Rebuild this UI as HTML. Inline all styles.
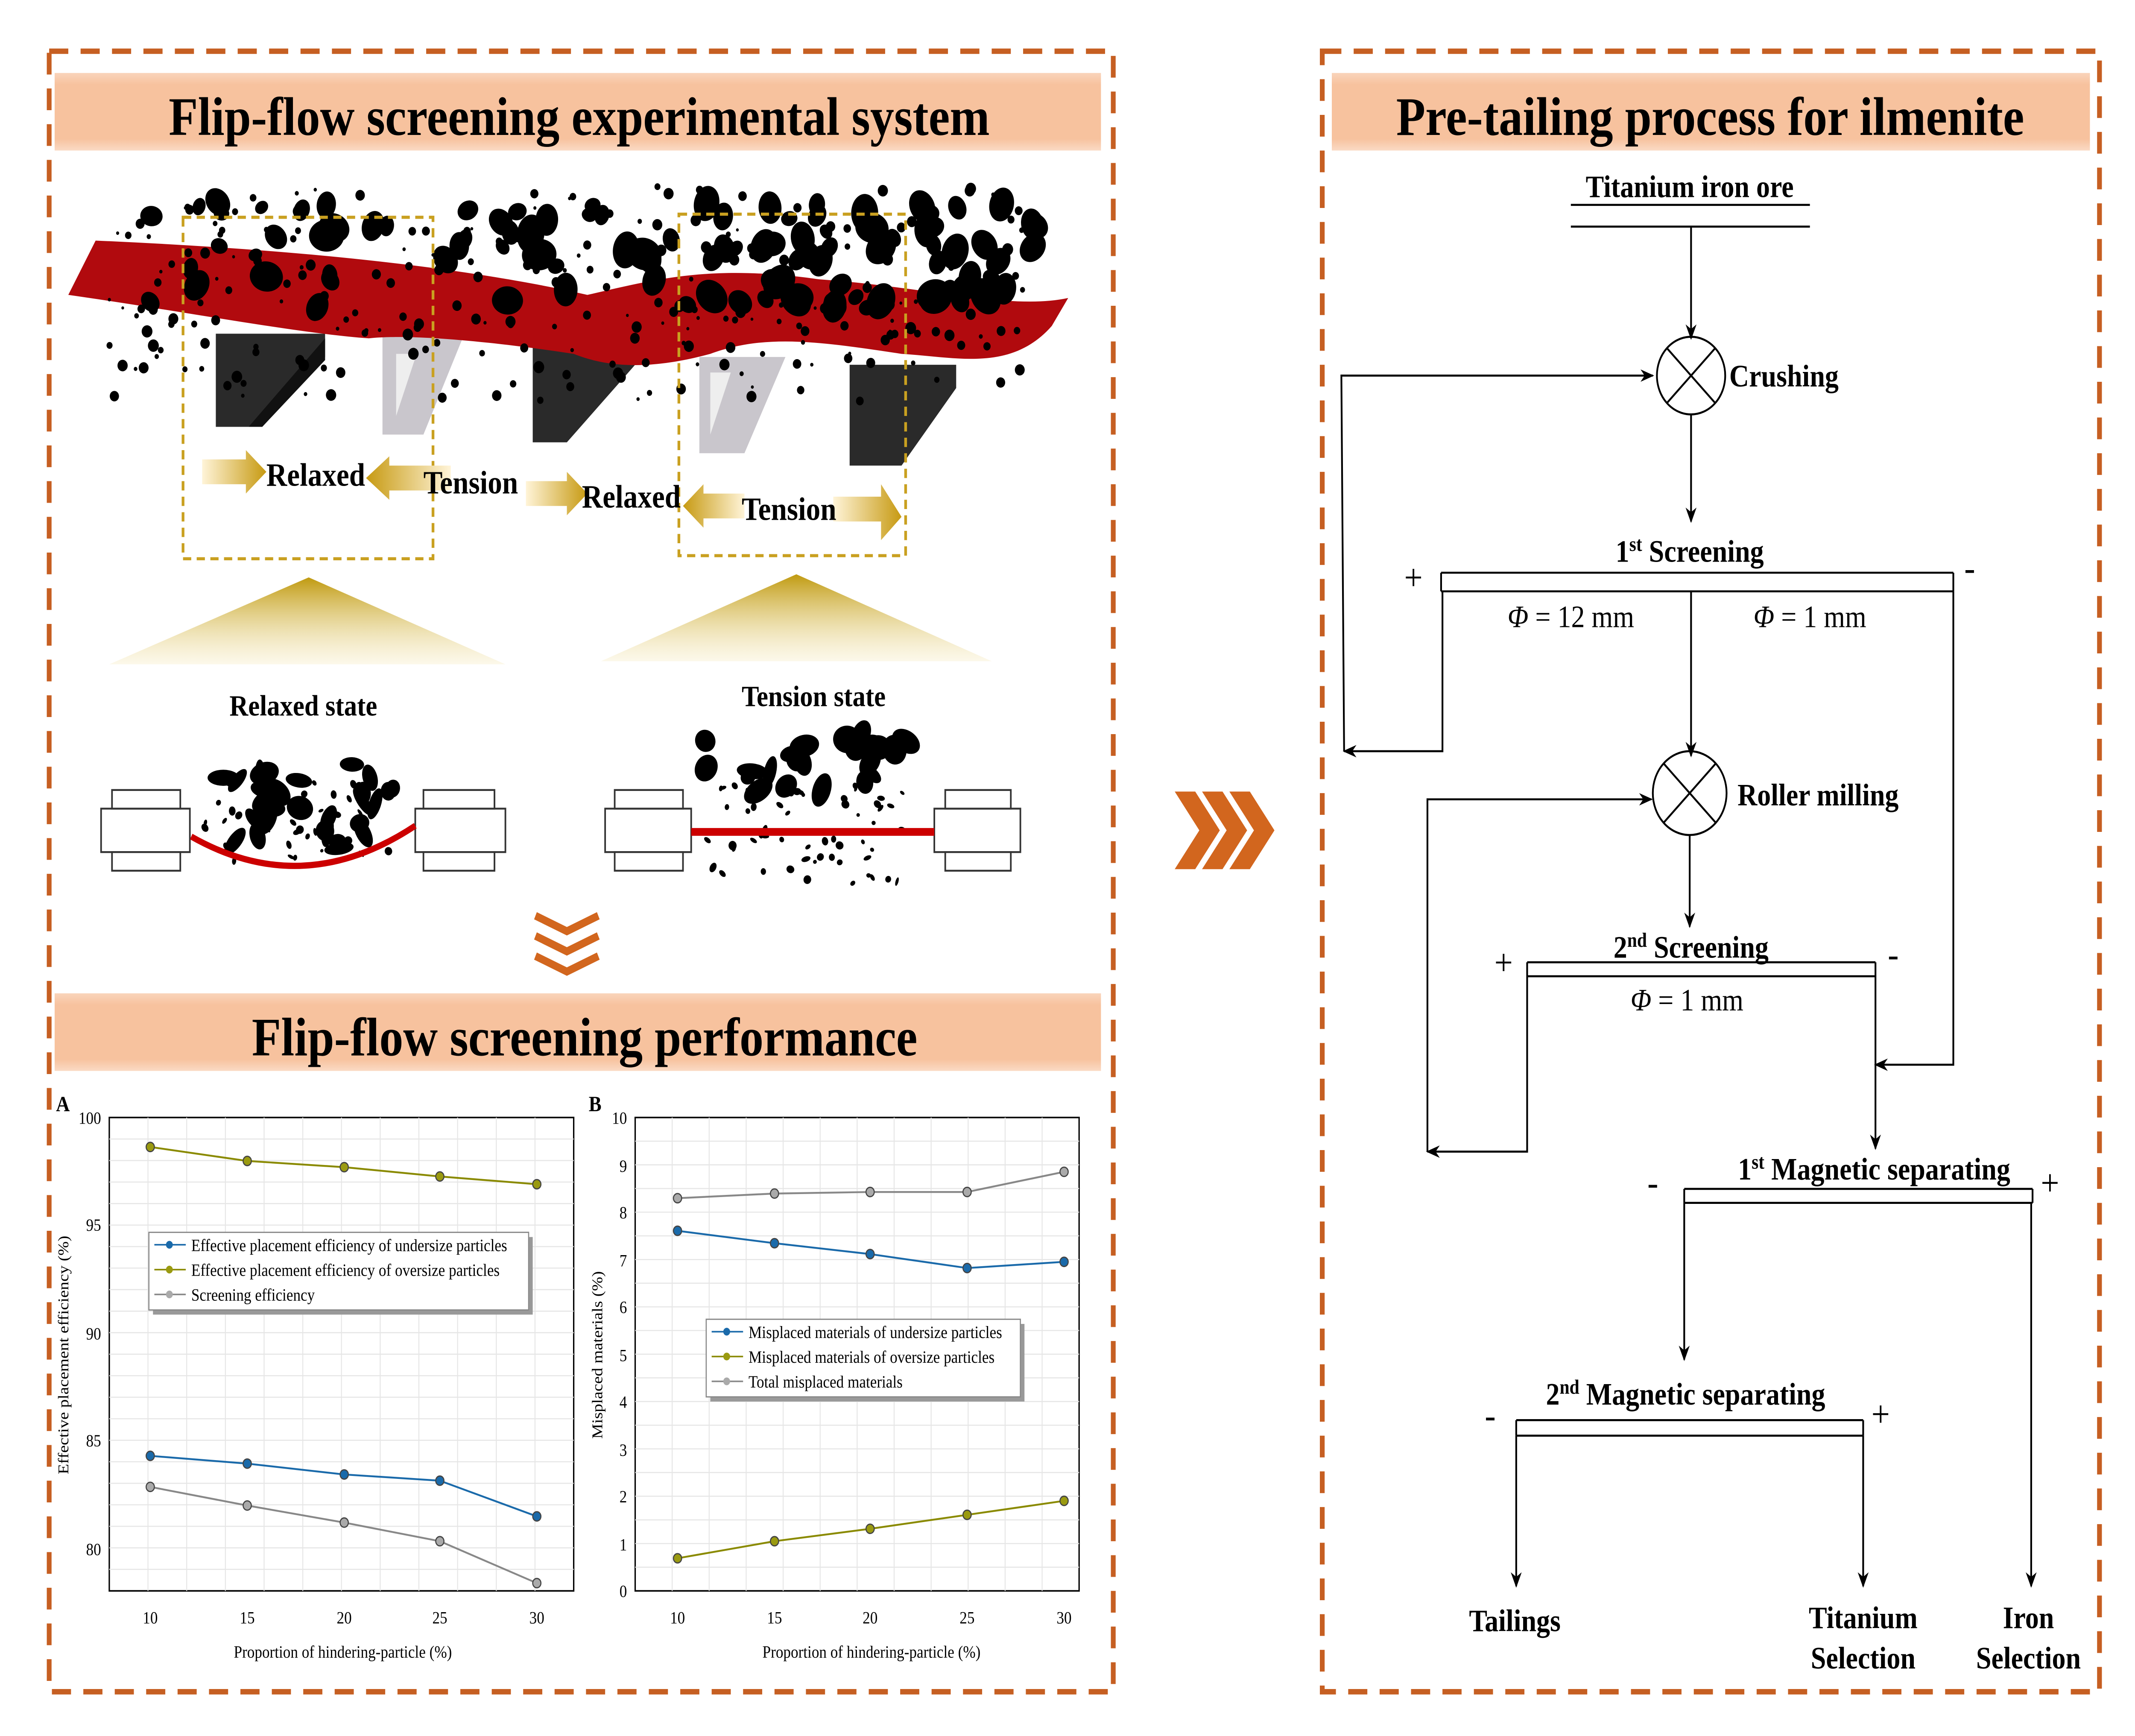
<!DOCTYPE html>
<html><head><meta charset="utf-8"><style>
html,body{margin:0;padding:0;background:#fff;width:100%;height:100%;overflow:hidden;}
svg{display:block;position:absolute;left:0;top:0;width:100vw;height:100vh;}
text{font-family:"Liberation Serif",serif;}
</style></head><body>
<svg id="s" viewBox="0 0 1563 1118.5" preserveAspectRatio="none" xmlns="http://www.w3.org/2000/svg">
<defs>
<linearGradient id="bar" x1="0" x2="0" y1="0" y2="1"><stop offset="0" stop-color="#f7c29e" stop-opacity="0.7"/><stop offset="0.15" stop-color="#f7c29e"/><stop offset="0.85" stop-color="#f7c29e"/><stop offset="1" stop-color="#f7c29e" stop-opacity="0.6"/></linearGradient>
<linearGradient id="gold" x1="0" x2="0" y1="0" y2="1"><stop offset="0" stop-color="#c09a10"/><stop offset="1" stop-color="#f5e8b8" stop-opacity="0.3"/></linearGradient>
<linearGradient id="arR" x1="0" x2="1"><stop offset="0" stop-color="#fff4d8"/><stop offset="1" stop-color="#c79a12"/></linearGradient>
<linearGradient id="arL" x1="1" x2="0"><stop offset="0" stop-color="#fff4d8"/><stop offset="1" stop-color="#c79a12"/></linearGradient>
<marker id="ah" markerWidth="10" markerHeight="10" refX="9" refY="5" orient="auto" markerUnits="userSpaceOnUse"><path d="M0,1 L10,5 L0,9 L3,5 z" fill="#000"/></marker>
</defs>
<rect x="36" y="33" width="779" height="1057" fill="none" stroke="#c65f22" stroke-width="3.5" stroke-dasharray="14,9"/>
<rect x="968" y="33" width="569" height="1057" fill="none" stroke="#c65f22" stroke-width="3.5" stroke-dasharray="14,9"/>
<rect x="40" y="47" width="766" height="50" fill="url(#bar)"/>
<text x="424" y="87" font-size="35" font-weight="bold" text-anchor="middle">Flip-flow screening experimental system</text>
<rect x="975" y="47" width="555" height="50" fill="url(#bar)"/>
<text x="1252" y="87" font-size="35" font-weight="bold" text-anchor="middle">Pre-tailing process for ilmenite</text>
<rect x="40" y="640" width="766" height="50" fill="url(#bar)"/>
<text x="428" y="680" font-size="35" font-weight="bold" text-anchor="middle">Flip-flow screening  performance</text>

<g>
<polygon points="158,215 238,215 238,230 182,275 158,275" fill="#2a2a2a"/>
<polygon points="238,218 238,232 192,275 182,275" fill="#111"/>
<polygon points="280,215 340,215 310,280 280,280" fill="#c9c6cc"/>
<polygon points="290,228 305,228 290,268" fill="#eee"/>
<polygon points="390,215 470,215 470,230 415,285 390,285" fill="#2a2a2a"/>
<polygon points="512,230 575,230 545,292 512,292" fill="#c9c6cc"/>
<polygon points="520,240 535,240 520,280" fill="#eee"/>
<polygon points="622,235 700,235 700,250 660,300 622,300" fill="#2a2a2a"/>
</g>
<path d="M50,190 L70,155 C200,160 330,170 430,190 C480,180 520,170 600,180 C680,185 740,200 782,192 L770,210 C740,240 700,230 660,228 C600,220 560,215 520,228 C470,240 440,235 420,228 C360,220 300,215 270,218 C220,215 130,200 50,190 Z" fill="#b10a0e"/>
<g id="parts"></g>
<rect x="134" y="140" width="183" height="220" fill="none" stroke="#c9a020" stroke-width="2" stroke-dasharray="6,4"/>
<rect x="497" y="138" width="166" height="220" fill="none" stroke="#c9a020" stroke-width="2" stroke-dasharray="6,4"/>
<polygon points="148,296 180,296 180,290 195,304 180,318 180,312 148,312" fill="url(#arR)"/>
<polygon points="330,300 285,300 285,294 268,308 285,322 285,316 330,316" fill="url(#arL)"/>
<polygon points="385,310 415,310 415,304 430,318 415,332 415,326 385,326" fill="url(#arR)"/>
<polygon points="545,318 515,318 515,312 500,326 515,340 515,334 545,334" fill="url(#arL)"/>
<polygon points="610,320 645,320 645,312 660,333 645,348 645,336 610,336" fill="url(#arR)"/>
<g font-size="21" font-weight="bold">
<text x="195" y="313">Relaxed</text><text x="310" y="318">Tension</text>
<text x="426" y="327">Relaxed</text><text x="543" y="335">Tension</text>
</g>
<polygon points="226,372 80,428 370,428" fill="url(#gold)"/>
<polygon points="583,370 440,426 726,426" fill="url(#gold)"/>
<g font-size="19" font-weight="bold">
<text x="168" y="461">Relaxed state</text><text x="543" y="455">Tension state</text>
</g>
<g fill="#fff" stroke="#333" stroke-width="1.2">
<rect x="74" y="521" width="65" height="28"/><rect x="82" y="509" width="50" height="12"/><rect x="82" y="549" width="50" height="12"/>
<rect x="304" y="521" width="66" height="28"/><rect x="310" y="509" width="52" height="12"/><rect x="310" y="549" width="52" height="12"/>
<rect x="443" y="521" width="63" height="28"/><rect x="450" y="509" width="50" height="12"/><rect x="450" y="549" width="50" height="12"/>
<rect x="684" y="521" width="63" height="28"/><rect x="692" y="509" width="48" height="12"/><rect x="692" y="549" width="48" height="12"/>
</g>
<path d="M140,539 Q222,580 304,532" fill="none" stroke="#c00" stroke-width="4"/>
<line x1="506" y1="536" x2="684" y2="536" stroke="#c00" stroke-width="5"/>
<g fill="none" stroke="#d2661e" stroke-width="5">
<polyline points="392,590 415,600 438,590"/><polyline points="392,603 415,613 438,603"/><polyline points="392,616 415,626 438,616"/>
</g>
<g fill="#d2661e">
<polygon points="860,510 875,510 893,535 875,560 860,560 878,535"/>
<polygon points="880,510 895,510 913,535 895,560 880,560 898,535"/>
<polygon points="900,510 915,510 933,535 915,560 900,560 918,535"/>
</g>

<g font-size="11">
<rect x="80" y="720" width="340" height="305" fill="none" stroke="#000" stroke-width="1"/>
<g stroke="#e6e6e6" stroke-width="0.7" id="gridA"></g>
<text x="41" y="716" font-size="14" font-weight="bold">A</text>
<text x="74" y="724" text-anchor="end">100</text><text x="74" y="793" text-anchor="end">95</text><text x="74" y="863" text-anchor="end">90</text><text x="74" y="932" text-anchor="end">85</text><text x="74" y="1002" text-anchor="end">80</text>
<text x="110" y="1046" text-anchor="middle">10</text><text x="181" y="1046" text-anchor="middle">15</text><text x="252" y="1046" text-anchor="middle">20</text><text x="322" y="1046" text-anchor="middle">25</text><text x="393" y="1046" text-anchor="middle">30</text>
<text x="251" y="1068" text-anchor="middle">Proportion of hindering-particle (%)</text>
<text transform="translate(50,873) rotate(-90)" text-anchor="middle">Effective placement efficiency (%)</text>
<polyline points="110,739 181,748 252,752 322,758 393,763" fill="none" stroke="#8a8a00" stroke-width="1.2"/>
<polyline points="110,938 181,943 252,950 322,954 393,977" fill="none" stroke="#1a6aaa" stroke-width="1.2"/>
<polyline points="110,958 181,970 252,981 322,993 393,1020" fill="none" stroke="#888" stroke-width="1.2"/>
<g stroke-width="0.8" stroke="#444">
<circle cx="110" cy="739" r="3" fill="#9a9a10"/><circle cx="181" cy="748" r="3" fill="#9a9a10"/><circle cx="252" cy="752" r="3" fill="#9a9a10"/><circle cx="322" cy="758" r="3" fill="#9a9a10"/><circle cx="393" cy="763" r="3" fill="#9a9a10"/>
<circle cx="110" cy="938" r="3" fill="#1a6aaa"/><circle cx="181" cy="943" r="3" fill="#1a6aaa"/><circle cx="252" cy="950" r="3" fill="#1a6aaa"/><circle cx="322" cy="954" r="3" fill="#1a6aaa"/><circle cx="393" cy="977" r="3" fill="#1a6aaa"/>
<circle cx="110" cy="958" r="3" fill="#aaa"/><circle cx="181" cy="970" r="3" fill="#aaa"/><circle cx="252" cy="981" r="3" fill="#aaa"/><circle cx="322" cy="993" r="3" fill="#aaa"/><circle cx="393" cy="1020" r="3" fill="#aaa"/>
</g>
<rect x="112" y="797" width="278" height="50" fill="#999"/>
<rect x="109" y="794" width="278" height="50" fill="#fff" stroke="#888" stroke-width="0.8"/>
<line x1="113" y1="802" x2="136" y2="802" stroke="#1a6aaa"/><circle cx="124" cy="802" r="2.5" fill="#1a6aaa"/><text x="140" y="806">Effective placement efficiency of undersize particles</text>
<line x1="113" y1="818" x2="136" y2="818" stroke="#8a8a00"/><circle cx="124" cy="818" r="2.5" fill="#9a9a10"/><text x="140" y="822">Effective placement efficiency of oversize particles</text>
<line x1="113" y1="834" x2="136" y2="834" stroke="#888"/><circle cx="124" cy="834" r="2.5" fill="#aaa"/><text x="140" y="838">Screening efficiency</text>
</g>
<g font-size="11">
<rect x="465" y="720" width="325" height="305" fill="none" stroke="#000" stroke-width="1"/>
<g stroke="#e6e6e6" stroke-width="0.7" id="gridB"></g>
<text x="431" y="716" font-size="14" font-weight="bold">B</text>
<g text-anchor="end">
<text x="459" y="724">10</text><text x="459" y="755">9</text><text x="459" y="785">8</text><text x="459" y="816">7</text><text x="459" y="846">6</text><text x="459" y="877">5</text><text x="459" y="907">4</text><text x="459" y="938">3</text><text x="459" y="968">2</text><text x="459" y="999">1</text><text x="459" y="1029">0</text>
</g>
<text x="496" y="1046" text-anchor="middle">10</text><text x="567" y="1046" text-anchor="middle">15</text><text x="637" y="1046" text-anchor="middle">20</text><text x="708" y="1046" text-anchor="middle">25</text><text x="779" y="1046" text-anchor="middle">30</text>
<text x="638" y="1068" text-anchor="middle">Proportion of hindering-particle (%)</text>
<text transform="translate(441,873) rotate(-90)" text-anchor="middle">Misplaced materials (%)</text>
<polyline points="496,772 567,769 637,768 708,768 779,755" fill="none" stroke="#888" stroke-width="1.2"/>
<polyline points="496,793 567,801 637,808 708,817 779,813" fill="none" stroke="#1a6aaa" stroke-width="1.2"/>
<polyline points="496,1004 567,993 637,985 708,976 779,967" fill="none" stroke="#8a8a00" stroke-width="1.2"/>
<g stroke-width="0.8" stroke="#444">
<circle cx="496" cy="772" r="3" fill="#aaa"/><circle cx="567" cy="769" r="3" fill="#aaa"/><circle cx="637" cy="768" r="3" fill="#aaa"/><circle cx="708" cy="768" r="3" fill="#aaa"/><circle cx="779" cy="755" r="3" fill="#aaa"/>
<circle cx="496" cy="793" r="3" fill="#1a6aaa"/><circle cx="567" cy="801" r="3" fill="#1a6aaa"/><circle cx="637" cy="808" r="3" fill="#1a6aaa"/><circle cx="708" cy="817" r="3" fill="#1a6aaa"/><circle cx="779" cy="813" r="3" fill="#1a6aaa"/>
<circle cx="496" cy="1004" r="3" fill="#9a9a10"/><circle cx="567" cy="993" r="3" fill="#9a9a10"/><circle cx="637" cy="985" r="3" fill="#9a9a10"/><circle cx="708" cy="976" r="3" fill="#9a9a10"/><circle cx="779" cy="967" r="3" fill="#9a9a10"/>
</g>
<rect x="520" y="853" width="230" height="50" fill="#999"/>
<rect x="517" y="850" width="230" height="50" fill="#fff" stroke="#888" stroke-width="0.8"/>
<line x1="521" y1="858" x2="544" y2="858" stroke="#1a6aaa"/><circle cx="532" cy="858" r="2.5" fill="#1a6aaa"/><text x="548" y="862">Misplaced materials of undersize particles</text>
<line x1="521" y1="874" x2="544" y2="874" stroke="#8a8a00"/><circle cx="532" cy="874" r="2.5" fill="#9a9a10"/><text x="548" y="878">Misplaced materials of oversize particles</text>
<line x1="521" y1="890" x2="544" y2="890" stroke="#888"/><circle cx="532" cy="890" r="2.5" fill="#aaa"/><text x="548" y="894">Total misplaced materials</text>
</g>

<g stroke="#000" stroke-width="1.3" fill="none">
<line x1="1150" y1="132" x2="1325" y2="132"/><line x1="1150" y1="146" x2="1325" y2="146"/>
<line x1="1238" y1="146" x2="1238" y2="218" marker-end="url(#ah)"/>
<circle cx="1238" cy="242" r="25"/>
<line x1="1220" y1="224" x2="1256" y2="260"/><line x1="1256" y1="224" x2="1220" y2="260"/>
<line x1="1238" y1="267" x2="1238" y2="336" marker-end="url(#ah)"/>
<line x1="1055" y1="369" x2="1430" y2="369"/><line x1="1055" y1="381" x2="1430" y2="381"/>
<line x1="1055" y1="369" x2="1055" y2="381"/><line x1="1430" y1="369" x2="1430" y2="381"/>
<polyline points="1056,381 1056,484 984,484" marker-end="url(#ah)"/>
<polyline points="984,484 982,242 1210,242" marker-end="url(#ah)"/>
<line x1="1238" y1="381" x2="1238" y2="487" marker-end="url(#ah)"/>
<polyline points="1430,381 1430,686 1373,686" marker-end="url(#ah)"/>
<circle cx="1237" cy="511" r="27"/>
<line x1="1218" y1="492" x2="1256" y2="530"/><line x1="1256" y1="492" x2="1218" y2="530"/>
<line x1="1237" y1="538" x2="1237" y2="597" marker-end="url(#ah)"/>
<line x1="1118" y1="620" x2="1373" y2="620"/><line x1="1118" y1="629" x2="1373" y2="629"/>
<line x1="1118" y1="620" x2="1118" y2="629"/><line x1="1373" y1="620" x2="1373" y2="629"/>
<polyline points="1118,629 1118,742 1045,742" marker-end="url(#ah)"/>
<polyline points="1045,742 1045,515 1209,515" marker-end="url(#ah)"/>
<line x1="1373" y1="629" x2="1373" y2="740" marker-end="url(#ah)"/>
<line x1="1233" y1="766" x2="1488" y2="766"/><line x1="1233" y1="775" x2="1488" y2="775"/>
<line x1="1233" y1="766" x2="1233" y2="775"/><line x1="1488" y1="766" x2="1488" y2="775"/>
<line x1="1233" y1="775" x2="1233" y2="876" marker-end="url(#ah)"/>
<line x1="1487" y1="775" x2="1487" y2="1022" marker-end="url(#ah)"/>
<line x1="1110" y1="915" x2="1364" y2="915"/><line x1="1110" y1="925" x2="1364" y2="925"/>
<line x1="1110" y1="915" x2="1110" y2="925"/><line x1="1364" y1="915" x2="1364" y2="925"/>
<line x1="1110" y1="925" x2="1110" y2="1022" marker-end="url(#ah)"/>
<line x1="1364" y1="925" x2="1364" y2="1022" marker-end="url(#ah)"/>
</g>
<g font-size="20" font-weight="bold">
<text x="1237" y="127" text-anchor="middle">Titanium iron ore</text>
<text x="1266" y="249">Crushing</text>
<text x="1237" y="362" text-anchor="middle">1<tspan font-size="13" dy="-7">st</tspan><tspan dy="7"> Screening</tspan></text>
<text x="1272" y="519">Roller milling</text>
<text x="1238" y="617" text-anchor="middle">2<tspan font-size="13" dy="-7">nd</tspan><tspan dy="7"> Screening</tspan></text>
<text x="1372" y="760" text-anchor="middle">1<tspan font-size="13" dy="-7">st</tspan><tspan dy="7"> Magnetic separating</tspan></text>
<text x="1234" y="905" text-anchor="middle">2<tspan font-size="13" dy="-7">nd</tspan><tspan dy="7"> Magnetic separating</tspan></text>
<text x="1109" y="1051" text-anchor="middle">Tailings</text>
<text x="1364" y="1049" text-anchor="middle">Titanium</text><text x="1364" y="1075" text-anchor="middle">Selection</text>
<text x="1485" y="1049" text-anchor="middle">Iron</text><text x="1485" y="1075" text-anchor="middle">Selection</text>
</g>
<g font-size="20">
<text x="1150" y="404" text-anchor="middle"><tspan font-style="italic">Φ</tspan> = 12 mm</text>
<text x="1325" y="404" text-anchor="middle"><tspan font-style="italic">Φ</tspan> = 1 mm</text>
<text x="1235" y="651" text-anchor="middle"><tspan font-style="italic">Φ</tspan> = 1 mm</text>
</g>
<g font-size="24">
<text x="1028" y="380">+</text><text x="1438" y="374">-</text>
<text x="1094" y="628">+</text><text x="1382" y="623">-</text>
<text x="1206" y="770">-</text><text x="1494" y="770">+</text>
<text x="1087" y="920">-</text><text x="1370" y="919">+</text>
</g>
</svg>
<script>
(function(){
var ns="http://www.w3.org/2000/svg",g=document.getElementById("parts"),seed=7;
function r(){seed=(seed*16807)%2147483647;return seed/2147483647;}
function add(cx,cy,rx,ry){var e=document.createElementNS(ns,"ellipse");e.setAttribute("cx",cx);e.setAttribute("cy",cy);e.setAttribute("rx",rx);e.setAttribute("ry",ry);e.setAttribute("transform","rotate("+(r()*180)+" "+cx+" "+cy+")");e.setAttribute("fill","#000");g.appendChild(e);}
var i,x,y,s;
for(i=0;i<110;i++){x=110+r()*650;y=130+r()*70;s=5+r()*8;add(x,y,s,s*0.8);}
for(i=0;i<260;i++){x=80+r()*680;y=120+r()*140;s=1+r()*3;add(x,y,s,s);}
for(i=0;i<30;i++){add(150+r()*140,488+r()*60,4+r()*8,3+r()*6);}
for(i=0;i<40;i++){add(150+r()*140,500+r()*55,1+r()*2,1+r()*2);}
for(i=0;i<22;i++){add(515+r()*160,470+r()*40,5+r()*7,4+r()*6);}
for(i=0;i<60;i++){add(515+r()*150,505+r()*65,1+r()*2.5,1+r()*2);}
function grid(id,x0,x1,y0,y1,nx,ny){var gg=document.getElementById(id);for(var k=1;k<nx;k++){var l=document.createElementNS(ns,"line");var xx=x0+(x1-x0)*k/nx;l.setAttribute("x1",xx);l.setAttribute("x2",xx);l.setAttribute("y1",y0);l.setAttribute("y2",y1);gg.appendChild(l);}for(k=1;k<ny;k++){l=document.createElementNS(ns,"line");var yy=y0+(y1-y0)*k/ny;l.setAttribute("x1",x0);l.setAttribute("x2",x1);l.setAttribute("y1",yy);l.setAttribute("y2",yy);gg.appendChild(l);}}
grid("gridA",80,420,720,1025,12,22);grid("gridB",465,790,720,1025,12,20);
})();
</script>
</body></html>
